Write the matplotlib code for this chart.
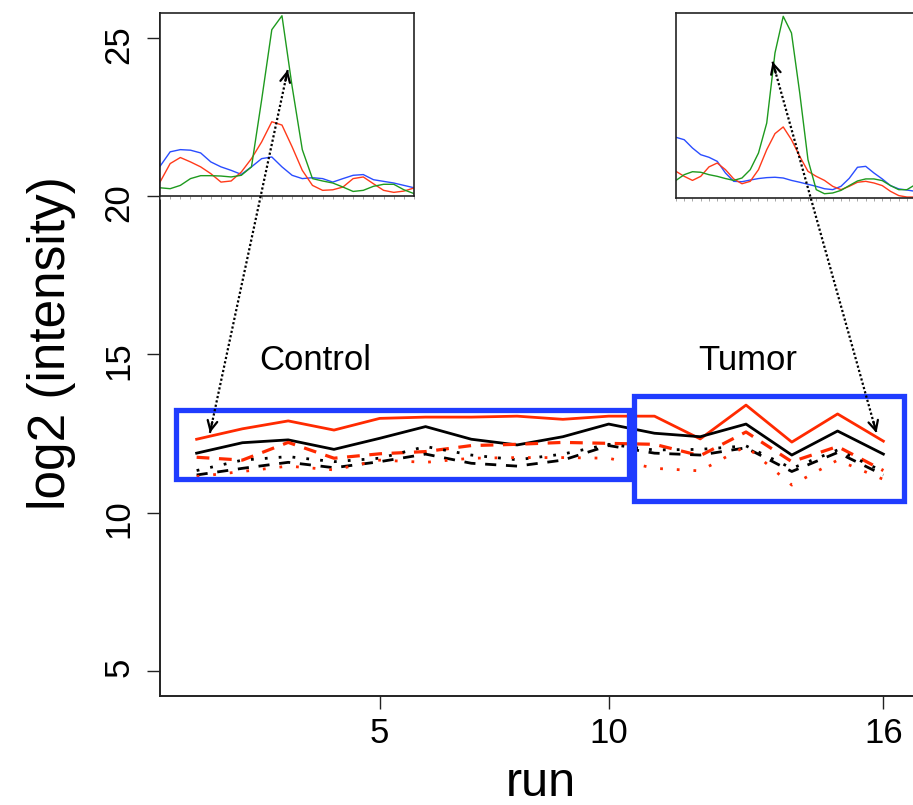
import numpy as np
import matplotlib
matplotlib.use("Agg")
import matplotlib.pyplot as plt

plt.rcParams['font.family'] = ['Liberation Sans', 'DejaVu Sans']

# ---- main panel: log2 intensity per run, six features ----
runs = np.arange(1, 17)
red_solid = [12.32, 12.65, 12.90, 12.61, 12.98, 13.02, 13.02, 13.05,
             12.95, 13.05, 13.05, 12.33, 13.40, 12.23, 13.12, 12.26]
black_solid = [11.88, 12.21, 12.30, 12.00, 12.35, 12.72, 12.32, 12.14,
               12.40, 12.80, 12.51, 12.40, 12.80, 11.82, 12.58, 11.85]
red_dashed = [11.75, 11.66, 12.22, 11.72, 11.86, 11.93, 12.12, 12.16,
              12.22, 12.19, 12.16, 11.80, 12.55, 11.61, 12.09, 11.33]
black_dashed = [11.19, 11.40, 11.59, 11.42, 11.61, 11.85, 11.56, 11.47,
                11.66, 12.12, 11.88, 11.82, 12.05, 11.30, 11.90, 11.19]
black_dotted = [11.33, 11.66, 11.77, 11.61, 11.72, 12.09, 11.82, 11.67,
                11.85, 12.16, 11.98, 12.00, 12.11, 11.40, 11.98, 11.30]
red_dotted = [11.14, 11.30, 11.47, 11.35, 11.66, 11.59, 11.72, 11.74,
              11.74, 11.72, 11.40, 11.32, 12.10, 10.87, 11.66, 11.05]

groups = ["Control", "Tumor"]
group_runs = [(1, 10), (11, 16)]

# ---- inset chromatograms (relative intensity, 0-100) ----
inset1_scan = np.arange(26)
inset1_green = [4.7, 4.2, 6.0, 9.7, 11.3, 11.3, 11.1, 10.6, 11.5, 16.1, 52.6, 90.9, 98.5,
                59.9, 25.5, 9.7, 8.4, 7.3, 5.1, 2.7, 3.3, 5.5, 6.6, 6.6, 3.6, 1.5]
inset1_red = [7.8, 17.9, 21.2, 18.8, 16.1, 12.4, 7.8, 8.4, 13.3, 20.6, 29.7, 40.7, 38.9,
              27.0, 14.2, 6.0, 3.3, 3.6, 5.1, 9.7, 10.6, 6.9, 3.3, 2.2, 2.9, 4.6]
inset1_blue = [16.4, 24.3, 25.5, 25.2, 23.7, 18.8, 16.1, 14.2, 12.0, 16.1, 20.6, 21.5, 16.1,
               11.5, 9.7, 10.2, 9.7, 7.8, 9.7, 11.5, 11.9, 9.1, 8.2, 7.3, 6.0, 4.7]

inset2_scan = np.arange(31)
inset2_green = [9.5, 12.6, 14.2, 13.9, 12.6, 11.7, 10.5, 9.5, 10.8, 15.3, 24.3, 40.5, 78.4,
                98.2, 89.2, 56.8, 20.7, 4.5, 2.3, 2.7, 4.1, 6.7, 9.2, 10.3, 10.3, 9.4,
                6.7, 4.5, 4.5, 7.2, 9.0]
inset2_red = [14.4, 11.7, 9.5, 11.7, 16.8, 18.9, 15.3, 10.3, 7.7, 9.0, 15.3, 26.1, 34.8,
              38.4, 31.5, 22.5, 14.4, 11.7, 9.5, 6.3, 4.5, 6.3, 8.5, 9.0, 8.1, 6.7,
              3.6, 1.3, 0.5, 0.5, 0.9]
inset2_blue = [32.8, 31.5, 27.0, 23.4, 22.0, 19.8, 13.5, 9.0, 8.8, 9.7, 10.5, 11.0, 11.2,
               10.8, 9.5, 8.5, 7.4, 6.3, 5.0, 4.5, 6.3, 10.6, 16.6, 17.1, 13.5, 10.3,
               6.7, 4.9, 4.3, 3.6, 3.1]

RED = '#ff2a00'
BLUE = '#1f3cff'

fig = plt.figure(figsize=(9.13, 8.05), dpi=100)
ax = fig.add_axes([160 / 913, 109 / 805, 760 / 913, 683 / 805])
ax.patch.set_visible(False)

ax.plot(runs, red_solid, color=RED, lw=2.0, zorder=3)
ax.plot(runs, black_solid, color='black', lw=2.0, zorder=3)
ax.plot(runs, red_dashed, color=RED, lw=2.3, dashes=(4, 3), zorder=3)
ax.plot(runs, black_dashed, color='black', lw=2.0, dashes=(4, 3.5), zorder=3)
ax.plot(runs, black_dotted, color='black', lw=2.0, dashes=(1, 4), zorder=3)
ax.plot(runs, red_dotted, color=RED, lw=2.0, dashes=(1, 5), zorder=3)

# blue boxes around the control / tumor runs
all_series = np.array([red_solid, black_solid, red_dashed,
                       black_dashed, black_dotted, red_dotted])
box_pads = [(0.45, 0.08, 0.20), (0.45, 0.50, 0.29)]  # (x pad, below, above)
for (r0, r1), (px, pb, pt) in zip(group_runs, box_pads):
    block = all_series[:, r0 - 1:r1]
    lo, hi = block.min() - pb, block.max() + pt
    ax.add_patch(plt.Rectangle((r0 - px, lo), (r1 - r0) + 2 * px, hi - lo,
                               fill=False, edgecolor=BLUE, lw=3.8, zorder=4,
                               clip_on=False))

ax.text(3.6, 14.8, groups[0], fontsize=25, ha='center', va='center')
ax.text(13.04, 14.8, groups[1], fontsize=25, ha='center', va='center')

ax.set_xlim(0.2, 16.8)
ax.set_ylim(4.2, 25.8)
ax.set_xticks([5, 10, 16])
ax.set_yticks([5, 10, 15, 20, 25])
ax.spines['top'].set_visible(False)
ax.spines['right'].set_visible(False)
for s in ['left', 'bottom']:
    ax.spines[s].set_linewidth(1.4)
    ax.spines[s].set_color('#222222')
ax.tick_params(length=9.4, width=1.0, color='#222222', labelsize=25)
ax.tick_params(axis='x', pad=6)
ax.tick_params(axis='y', pad=8.5, labelrotation=90)

ax.set_xlabel('run', fontsize=35)
ax.xaxis.set_label_coords(0.501, -0.1464)
ax.xaxis.label.set_va('baseline')
ax.set_ylabel('log2 (intensity)', fontsize=37)
ax.yaxis.set_label_coords(-0.125, 0.517)
ax.yaxis.label.set_va('baseline')

# insets with the extracted ion chromatograms
def draw_inset(bounds, scan, green, red, blue, xlim):
    ins = ax.inset_axes(bounds, transform=ax.transData, zorder=5)
    ins.plot(scan, blue, color='#2a4dff', lw=1.0)
    ins.plot(scan, red, color='#ff3a1a', lw=1.0)
    ins.plot(scan, green, color='#1e9a1e', lw=1.0)
    ins.set_xlim(*xlim)
    ins.set_ylim(0, 100)
    ins.set_xticks(scan)
    ins.set_yticks([])
    ins.tick_params(axis='x', length=2, width=0.6, color='0.6', labelbottom=False)
    for s in ins.spines.values():
        s.set_linewidth(1.2)
        s.set_color('#222222')
    return ins

draw_inset([0.2, 20.0, 5.55, 5.8], inset1_scan, inset1_green, inset1_red,
           inset1_blue, (0, 25))
draw_inset([11.47, 19.95, 5.55, 5.85], inset2_scan, inset2_green, inset2_red,
           inset2_blue, (0.32, 30.8))

# dotted double-headed arrows linking the peaks to the runs
arrows = [((1.29, 12.52), (2.99, 24.0)), ((13.58, 24.26), (15.85, 12.52))]
for p0, p1 in arrows:
    ax.plot([p0[0], p1[0]], [p0[1], p1[1]], color='black', lw=1.6,
            dashes=(1, 1), zorder=10, clip_on=False)
    for a, b in [(p0, p1), (p1, p0)]:
        back = (a[0] + 0.03 * (b[0] - a[0]), a[1] + 0.03 * (b[1] - a[1]))
        ax.annotate('', xy=a, xytext=back, zorder=11, annotation_clip=False,
                    arrowprops=dict(arrowstyle='->,head_length=0.7,head_width=0.35',
                                    lw=1.6, color='black', shrinkA=0, shrinkB=0))

fig.savefig('out.png', dpi=100)
